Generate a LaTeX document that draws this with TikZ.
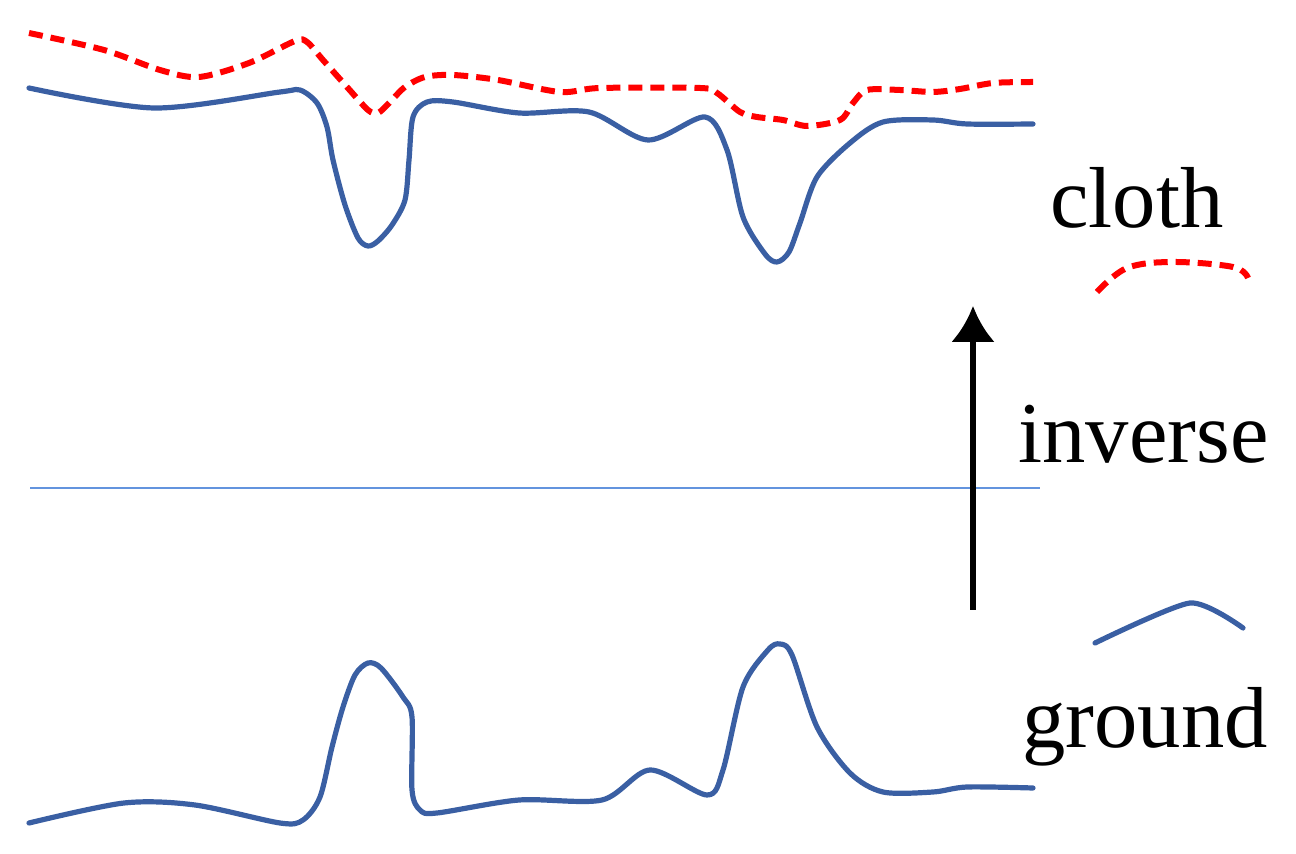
\documentclass[tikz,border=0pt]{standalone}
\usepackage{fontspec}
\setmainfont{Liberation Serif}
\newfontfamily\tagfont{Liberation Serif}
\usetikzlibrary{arrows.meta}
\definecolor{lineblue}{HTML}{3A5FA3}
\definecolor{thinblue}{HTML}{6394DE}
\tikzset{
  surface/.style={lineblue,line width=2.6pt,line cap=round,line join=round},
  clothline/.style={red,line width=3pt,dash pattern=on 7pt off 4pt},
  tag/.style={anchor=base west,inner sep=0pt,font=\tagfont\fontsize{43.3}{50}\selectfont},
}
\begin{document}
\begin{tikzpicture}[x=0.5pt,y=-0.5pt,>=latex]
\useasboundingbox (0,0) rectangle (1296,854);
%% cloth surface
\draw [clothline] plot[smooth,tension=0.5] coordinates {(29,33) (104,50) (160,70) (199,77) (249,63) (295,41) (307,42) (323,60) (347,87) (368,110) (378,113) (390,102) (405,87) (425,77) (453,75) (498,80) (560,92) (600,88) (700,88) (717,93) (740,112) (757,117) (783,120) (807,126) (840,120) (853,103) (867,90) (900,90) (933,92) (960,89) (993,83) (1033,82)};
%% surface seen from above
\draw [surface] plot[smooth,tension=0.5] coordinates {(29,88) (154,108) (280,92) (300,90) (317,103) (327,127) (333,160) (345,205) (358,238) (368,246) (378,241) (392,225) (405,200) (409,160) (413,117) (427,102) (453,102) (519,113) (589,112) (648,140) (705,117) (727,150) (743,217) (765,254) (777,262) (789,252) (800,223) (817,177) (850,143) (883,122) (933,120) (967,124) (1033,124)};
%% reference plane
\draw [thinblue,line width=1.1pt] (30,488) -- (1040,488);
%% ground surface
\draw [surface] plot[smooth,tension=0.5] coordinates {(29,823) (124,803) (195,805) (280,823) (303,820) (320,797) (332,747) (343,707) (355,675) (368,663) (381,668) (403,697) (412,717) (412,790) (420,810) (437,813) (519,800) (602,800) (650,770) (707,795) (723,770) (743,687) (768,650) (780,644) (792,655) (817,727) (850,773) (883,792) (933,792) (967,787) (1033,788)};
%% labels
\node (cloth) [tag] at (1050,228) {cloth};
\node (inverse) [tag] at (1018,463) {inverse};
\node (ground) [tag] at (1022,748) {ground};
\draw [clothline] plot[smooth,tension=0.6] coordinates {(1097,292) (1127,268) (1173,262) (1233,267) (1248,278)};
\draw [surface] plot[smooth,tension=0.4] coordinates {(1095,643) (1190,603) (1243,628)};
%% arrow
\coordinate (arrow_tail) at (973,610);
\coordinate (arrow_head) at (973,306);
\draw [black,line width=3pt,-{Latex[length=18pt,width=22pt]}] (arrow_tail) -- (arrow_head);
%
\end{tikzpicture}
\end{document}
